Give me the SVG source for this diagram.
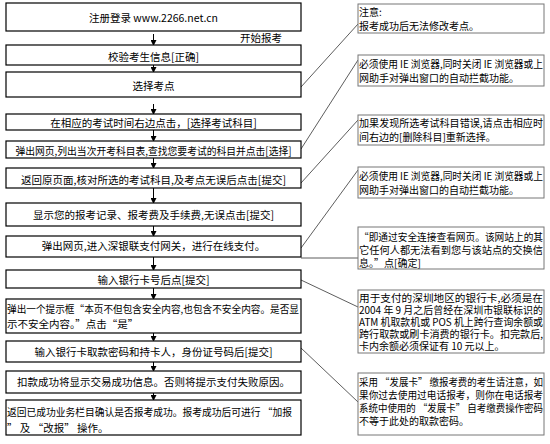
<svg xmlns="http://www.w3.org/2000/svg" width="550" height="444" viewBox="0 0 550 444">
<defs>
<style>
text{font-family:"Noto Sans CJK SC","Liberation Sans",sans-serif;font-size:10.5px;fill:#000;dominant-baseline:central}
.c{text-anchor:middle}
.nt{font-size:10px}
.box{fill:#fff;stroke:#000;stroke-width:1.2}
.note{fill:#fff;stroke:#777;stroke-width:1}
.lnk{stroke:#333;stroke-width:0.8;fill:none}
.arr{stroke:#000;stroke-width:1;fill:none;marker-end:url(#ah)}
</style>
<marker id="ah" markerWidth="6" markerHeight="6" refX="5" refY="3" orient="auto" markerUnits="userSpaceOnUse">
<path d="M0,0 L6,3 L0,6 Z" fill="#000"/>
</marker>
</defs>
<rect width="550" height="444" fill="#fff"/>
<g id="connectors">
<line class="arr" x1="153.5" y1="34" x2="153.5" y2="45"/>
<line class="arr" x1="153.5" y1="65" x2="153.5" y2="72"/>
<line class="arr" x1="153.5" y1="104" x2="153.5" y2="114"/>
<line class="arr" x1="153.5" y1="130" x2="153.5" y2="141"/>
<line class="arr" x1="153.5" y1="158" x2="153.5" y2="168"/>
<line class="arr" x1="153.5" y1="188" x2="153.5" y2="203"/>
<line class="arr" x1="153.5" y1="226" x2="153.5" y2="236"/>
<line class="arr" x1="153.5" y1="257" x2="153.5" y2="270"/>
<line class="arr" x1="153.5" y1="288" x2="153.5" y2="299"/>
<line class="arr" x1="153.5" y1="333" x2="153.5" y2="341"/>
<line class="arr" x1="153.5" y1="362" x2="153.5" y2="371"/>
<line class="arr" x1="153.5" y1="393" x2="153.5" y2="400"/>
<line class="lnk" x1="301" y1="87" x2="358" y2="24"/>
<line class="lnk" x1="301" y1="149" x2="358" y2="60"/>
<line class="lnk" x1="301" y1="183" x2="358" y2="120"/>
<line class="lnk" x1="301" y1="248" x2="358" y2="170"/>
<line class="lnk" x1="301" y1="258" x2="358" y2="258"/>
<line class="lnk" x1="301" y1="280" x2="358" y2="307"/>
<line class="lnk" x1="301" y1="348" x2="358" y2="402"/>
</g>
<text x="240" y="37">开始报考</text>
<g id="n1"><rect class="box" x="6" y="3" width="295" height="28"/><text class="c" x="153.5" y="17">注册登录 www.2266.net.cn</text></g>
<g id="n2"><rect class="box" x="6" y="45" width="295" height="20"/><text class="c" x="153.5" y="56">校验考生信息[正确]</text></g>
<g id="n3"><rect class="box" x="6" y="72" width="295" height="25"/><text class="c" x="153.5" y="85">选择考点</text></g>
<g id="n4"><rect class="box" x="6" y="114" width="295" height="16"/><text class="c" x="153.5" y="122">在相应的考试时间右边点击，[选择考试科目]</text></g>
<g id="n5"><rect class="box" x="6" y="141" width="295" height="17"/><text class="c" x="153.5" y="150" textLength="276" lengthAdjust="spacingAndGlyphs">弹出网页,列出当次开考科目表,查找您要考试的科目并点击[选择]</text></g>
<g id="n6"><rect class="box" x="6" y="168" width="295" height="20"/><text class="c" x="153.5" y="179">返回原页面,核对所选的考试科目,及考点无误后点击[提交]</text></g>
<g id="n7"><rect class="box" x="6" y="203" width="295" height="23"/><text class="c" x="153.5" y="214">显示您的报考记录、报考费及手续费,无误点击[提交]</text></g>
<g id="n8"><rect class="box" x="6" y="236" width="295" height="21"/><text class="c" x="153.5" y="245">弹出网页,进入深银联支付网关，进行在线支付。</text></g>
<g id="n9"><rect class="box" x="6" y="270" width="295" height="18"/><text class="c" x="153.5" y="279">输入银行卡号后点[提交]</text></g>
<g id="n10"><rect class="box" x="6" y="299" width="295" height="34"/><text x="7" y="308" textLength="292" lengthAdjust="spacingAndGlyphs">弹出一个提示框“本页不但包含安全内容,也包含不安全内容。是否显</text><text x="7" y="323">示不安全内容。”点击“是”</text></g>
<g id="n11"><rect class="box" x="6" y="341" width="295" height="21"/><text class="c" x="153.5" y="351">输入银行卡取款密码和持卡人，身份证号码后[提交]</text></g>
<g id="n12"><rect class="box" x="6" y="371" width="295" height="22"/><text class="c" x="153.5" y="381">扣款成功将显示交易成功信息。否则将提示支付失败原因。</text></g>
<g id="n13"><rect class="box" x="6" y="400" width="295" height="35"/><text x="7" y="411" textLength="285" lengthAdjust="spacingAndGlyphs">返回已成功业务栏目确认是否报考成功。报考成功后可进行 “加报</text><text x="7" y="427">” 及 “改报” 操作。</text></g>
<g id="note1"><rect class="note" x="358" y="4" width="186" height="29"/><text class="nt" x="359" y="11">注意:</text><text class="nt" x="359" y="25">报考成功后无法修改考点。</text></g>
<g id="note2"><rect class="note" x="358" y="55" width="186" height="31"/><text class="nt" x="359" y="63" textLength="184" lengthAdjust="spacingAndGlyphs">必须使用 IE 浏览器,同时关闭 IE 浏览器或上</text><text class="nt" x="359" y="77">网助手对弹出窗口的自动拦截功能。</text></g>
<g id="note3"><rect class="note" x="358" y="115" width="186" height="30"/><text class="nt" x="359" y="122" textLength="184" lengthAdjust="spacingAndGlyphs">加果发现所选考试科目错误,请点击相应时</text><text class="nt" x="359" y="136">间右边的[删除科目]重新选择。</text></g>
<g id="note4"><rect class="note" x="358" y="167" width="186" height="31"/><text class="nt" x="359" y="175" textLength="184" lengthAdjust="spacingAndGlyphs">必须使用 IE 浏览器,同时关闭 IE 浏览器或上</text><text class="nt" x="359" y="189">网助手对弹出窗口的自动拦截功能。</text></g>
<g id="note5"><rect class="note" x="358" y="227" width="186" height="42"/><text class="nt" x="359" y="236" textLength="184" lengthAdjust="spacingAndGlyphs">“即通过安全连接查看网页。该网站上的其</text><text class="nt" x="359" y="249" textLength="184" lengthAdjust="spacingAndGlyphs">它任何人都无法看到您与该站点的交换信</text><text class="nt" x="359" y="262">息。”点[确定]</text></g>
<g id="note6"><rect class="note" x="358" y="290" width="186" height="63"/><text class="nt" x="359" y="297" textLength="184" lengthAdjust="spacingAndGlyphs">用于支付的深圳地区的银行卡,必须是在</text><text class="nt" x="359" y="309" textLength="184" lengthAdjust="spacingAndGlyphs">2004 年 9 月之后曾经在深圳市银联标识的</text><text class="nt" x="359" y="321" textLength="184" lengthAdjust="spacingAndGlyphs">ATM 机取款机或 POS 机上跨行查询余额或</text><text class="nt" x="359" y="333" textLength="184" lengthAdjust="spacingAndGlyphs">跨行取款或刷卡消费的银行卡。扣完款后,</text><text class="nt" x="359" y="345">卡内余额必须保证有 10 元以上。</text></g>
<g id="note7"><rect class="note" x="358" y="373" width="186" height="62"/><text class="nt" x="359" y="381" textLength="184" lengthAdjust="spacingAndGlyphs">采用 “发展卡” 缴报考费的考生请注意，如</text><text class="nt" x="359" y="394" textLength="184" lengthAdjust="spacingAndGlyphs">果你过去使用过电话报考，则你在电话报考</text><text class="nt" x="359" y="407" textLength="184" lengthAdjust="spacingAndGlyphs">系统中使用的 “发展卡” 自考缴费操作密码</text><text class="nt" x="359" y="420">不等于此处的取款密码。</text></g>
</svg>
